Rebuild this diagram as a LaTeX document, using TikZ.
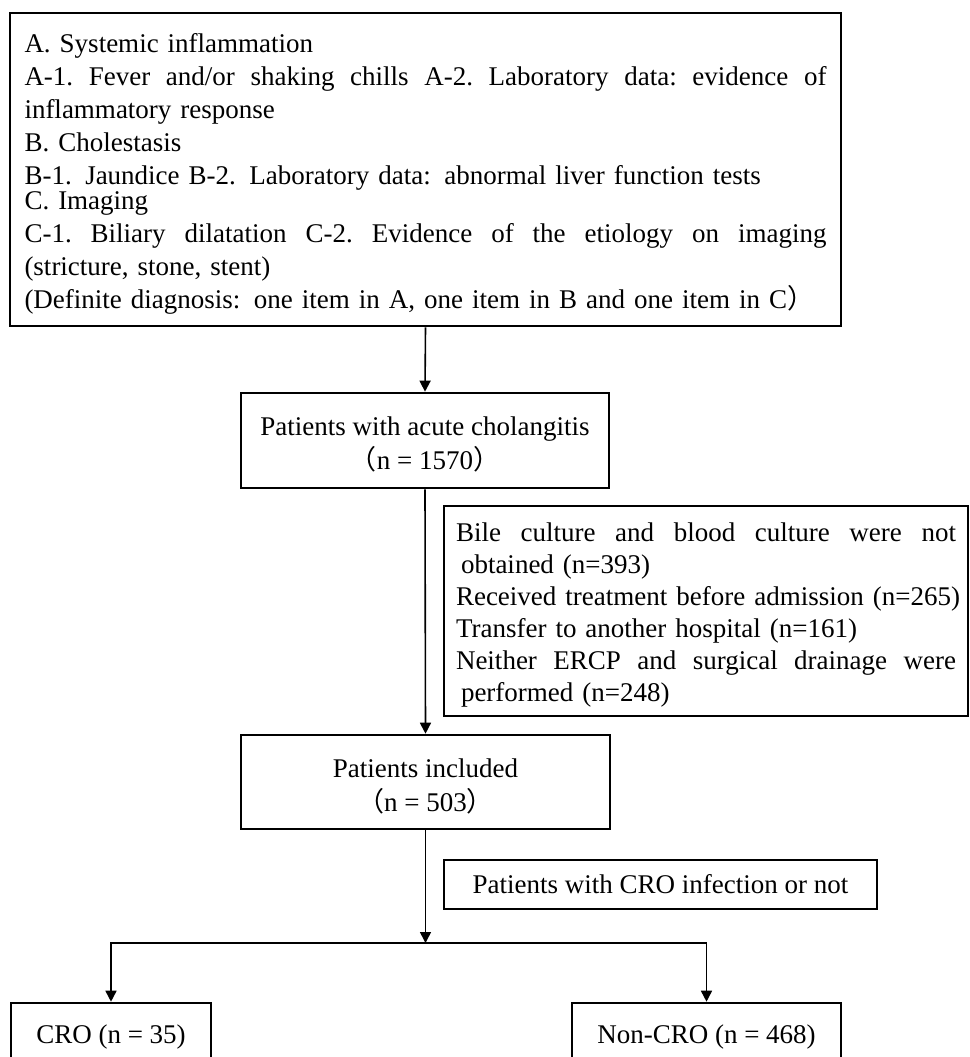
\documentclass[tikz,border=0pt]{standalone}
\usepackage{fontspec}
\setmainfont{Liberation Serif}
\newfontfamily\cjk{Noto Sans CJK SC}
\usetikzlibrary{calc,arrows.meta,positioning}
\newcommand{\fwl}{{\cjk （}}
\newcommand{\fwr}{{\cjk ）}}
\newcommand{\spread}[2]{\makebox[#1][s]{\frenchspacing\spaceskip=0pt\xspaceskip=0pt\relax #2}}
\newcommand{\topstrut}{\rule{0pt}{27pt}}

\begin{document}
\begin{tikzpicture}[x=1pt,y=1pt,font=\fontsize{27}{33}\selectfont]

\tikzset{
critbox/.style={draw,line width=2.6pt,minimum width=831pt,minimum height=313pt,text width=802pt,inner xsep=0pt,align=left},
stepbox/.style={draw,line width=2.6pt,minimum width=368pt,minimum height=95pt,align=center,font=\fontsize{27}{34}\selectfont},
exclbox/.style={draw,line width=2.6pt,minimum width=524pt,minimum height=210pt,text width=500pt,inner xsep=0pt,align=left,font=\fontsize{27}{32}\selectfont},
groupbox/.style={draw,line width=2.6pt,minimum height=67pt},
flow/.style={->,>={Triangle[length=11pt,width=11pt]},line width=1.6pt}
}

\useasboundingbox (0,0) rectangle (969,-1057);
\clip (0,0) rectangle (969,-1057);

% Nodes
\node[critbox] (crit) at (425.5,-169.5) {\topstrut A. Systemic inflammation\\
\spread{802pt}{A-1. Fever and/or shaking chills A-2. Laboratory data: evidence of}\\
inflammatory response\\
B. Cholestasis\\
B-1. Jaundice B-2. Laboratory data: abnormal liver function tests\\[-8pt]
C. Imaging\\
\spread{802pt}{C-1. Biliary dilatation C-2. Evidence of the etiology on imaging}\\
(stricture, stone, stent)\\
(Definite diagnosis: one item in A, one item in B and one item in C\fwr};

\node[stepbox] (acute) at (425,-440.5) {\topstrut Patients with acute cholangitis\\ \fwl n = 1570\fwr};

\node[exclbox] (excl) at (706,-611) {\topstrut\spread{500pt}{Bile culture and blood culture were not}\\
\hspace*{5pt}obtained (n=393)\\
\makebox[500pt][l]{Received treatment before admission (n=265)}\\
Transfer to another hospital (n=161)\\
\spread{500pt}{Neither ERCP and surgical drainage were}\\
\hspace*{5pt}performed (n=248)};

\node[stepbox,minimum width=369pt,minimum height=94pt] (incl) at (425.5,-782) {\topstrut Patients included\\ \fwl n = 503\fwr};

\node[draw,line width=2.6pt,minimum width=433pt,minimum height=49pt] (split) at (660.5,-884.5) {Patients with CRO infection or not};

\node[groupbox,minimum width=200pt] (cro) at (111,-1036.5) {CRO (n = 35)};
\node[groupbox,minimum width=269pt] (noncro) at (706.5,-1036.5) {Non-CRO (n = 468)};

\coordinate (fork) at ($(incl.south |- 0,-943)$);

% Arrows
\draw[flow] (crit.south) -- (acute.north);
\draw[flow] (acute.south) -- (incl.north);
\draw[flow] (incl.south) -- (fork);
\draw[flow] (fork) -| (cro.north);
\draw[flow] (fork) -| (noncro.north);

\end{tikzpicture}
\end{document}
